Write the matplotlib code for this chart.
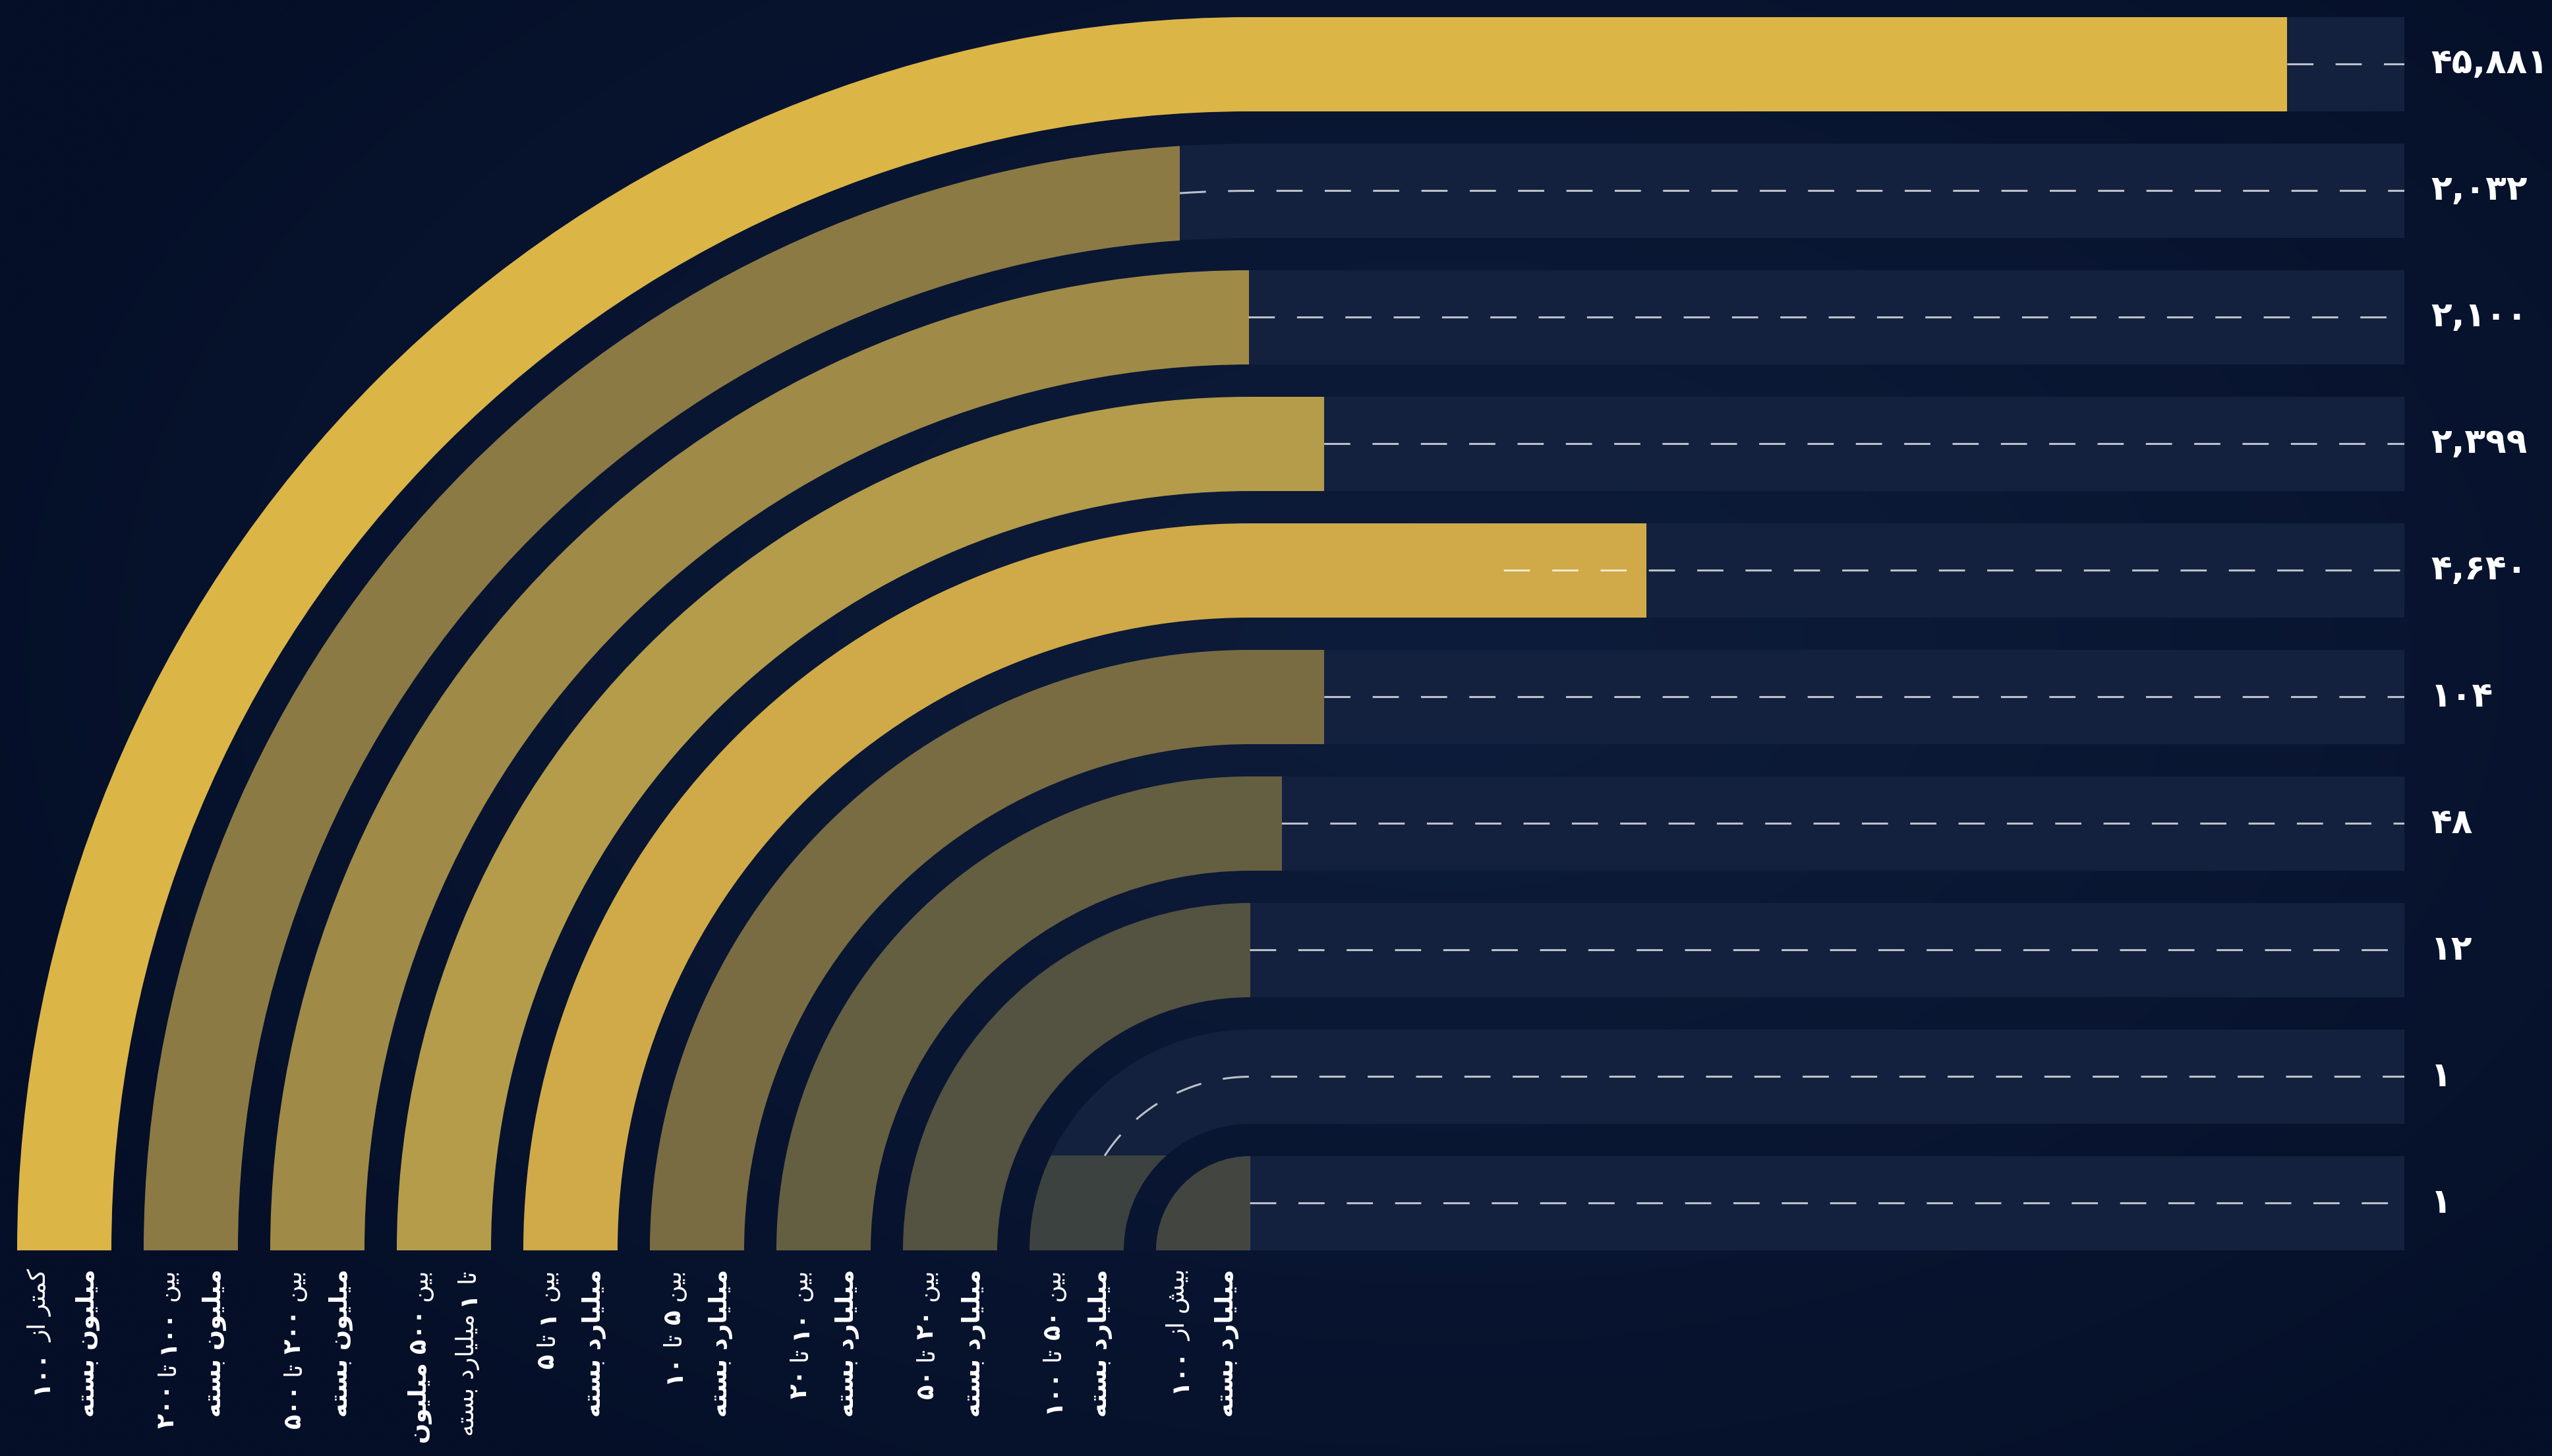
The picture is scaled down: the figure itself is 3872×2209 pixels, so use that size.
import numpy as np
import matplotlib
matplotlib.use("Agg")
import matplotlib.pyplot as plt
from matplotlib.patches import Wedge, Rectangle

# ---------------- data ----------------
values = [45881, 2032, 2100, 2399, 4640, 104, 48, 12, 1, 1]
# drawn fill length along each bar's centre line (pixels of the picture)
fill_length = [4400, 2418, 2221, 2034, 2221, 1431, 1065, 715, 152, 112]
# where the dashed guide begins along the centre line
dash_from = [4400, 2418, 2221, 2034, 2005, 1431, 1065, 715, 152, 112]
# category labels, two lines each; words prefixed with "!" are bold
label_line1 = ["کمتر از !۱۰۰", "بین !۱۰۰ تا !۲۰۰", "بین !۲۰۰ تا !۵۰۰", "بین !۵۰۰ !میلیون",
               "بین !۱ تا !۵", "بین !۵ تا !۱۰", "بین !۱۰ تا !۲۰", "بین !۲۰ تا !۵۰",
               "بین !۵۰ تا !۱۰۰", "بیش از !۱۰۰"]
label_line2 = ["!میلیون !بسته", "!میلیون !بسته", "!میلیون !بسته", "تا !۱ میلیارد بسته",
               "!میلیارد !بسته", "!میلیارد !بسته", "!میلیارد !بسته", "!میلیارد !بسته",
               "!میلیارد !بسته", "!میلیارد !بسته"]

# ---------------- style ----------------
bar_colors = ["#dcb547", "#8c7a45", "#a08a47", "#b49c4a", "#d0aa48",
              "#7a6c42", "#655f42", "#545240", "#3c423f", "#434640"]
TRACK = "#13213e"
BG_EDGE = np.array([5, 15, 40]) / 255
BG_MID = np.array([13, 28, 58]) / 255

# ---------------- minimal Persian shaping ----------------
FORMS = {  # isolated, final, initial, medial
    "ا": ("\uFE8D", "\uFE8E", None, None),
    "ب": ("\uFE8F", "\uFE90", "\uFE91", "\uFE92"),
    "ت": ("\uFE95", "\uFE96", "\uFE97", "\uFE98"),
    "د": ("\uFEA9", "\uFEAA", None, None),
    "ر": ("\uFEAD", "\uFEAE", None, None),
    "ز": ("\uFEAF", "\uFEB0", None, None),
    "س": ("\uFEB1", "\uFEB2", "\uFEB3", "\uFEB4"),
    "ش": ("\uFEB5", "\uFEB6", "\uFEB7", "\uFEB8"),
    "ل": ("\uFEDD", "\uFEDE", "\uFEDF", "\uFEE0"),
    "م": ("\uFEE1", "\uFEE2", "\uFEE3", "\uFEE4"),
    "ن": ("\uFEE5", "\uFEE6", "\uFEE7", "\uFEE8"),
    "ه": ("\uFEE9", "\uFEEA", "\uFEEB", "\uFEEC"),
    "و": ("\uFEED", "\uFEEE", None, None),
    "ک": ("\uFB8E", "\uFB8F", "\uFB90", "\uFB91"),
    "ی": ("\uFBFC", "\uFBFD", "\uFBFE", "\uFBFF"),
}
DUAL = {c for c, f in FORMS.items() if f[2] is not None}


def shape(word):
    out = []
    for i, c in enumerate(word):
        if c not in FORMS:
            out.append(c)
            continue
        prev = word[i - 1] if i > 0 else None
        nxt = word[i + 1] if i + 1 < len(word) else None
        jp = prev in DUAL
        jn = c in DUAL and nxt in FORMS
        iso, fin, ini, med = FORMS[c]
        out.append(med if jp and jn else fin if jp else ini if jn else iso)
    return "".join(out)


def is_digits(tok):
    return all(ch in "۰۱۲۳۴۵۶۷۸۹,0123456789" for ch in tok)


def visual(tokens):
    return " ".join(t if is_digits(t) else shape(t)[::-1] for t in reversed(tokens))


def runs_of(line):
    runs = []
    for tok in line.split():
        bold = tok.startswith("!")
        tok = tok.lstrip("!")
        if runs and runs[-1][0] == bold:
            runs[-1][1].append(tok)
        else:
            runs.append([bold, [tok]])
    return runs


FA = str.maketrans("0123456789", "۰۱۲۳۴۵۶۷۸۹")

# ---------------- layout ----------------
W, H = 3873, 2209
CX, CY = 1897, 1897          # centre of the concentric arcs (picture pixels)
PITCH, BAR_W = 192, 143
TRACK_LEN = 1751
plt.rcParams["font.family"] = ["DejaVu Sans"]

fig = plt.figure(figsize=(W / 100, H / 100), dpi=100)
fig.patch.set_facecolor(BG_EDGE)
ax = fig.add_axes([0, 0, 1, 1])
xlim = (-CX, W - CX)
ylim = (-(H - CY), CY)
ax.set_xlim(*xlim)
ax.set_ylim(*ylim)
ax.axis("off")

# background glow
gy, gx = np.mgrid[ylim[1]:ylim[0]:300j, xlim[0]:xlim[1]:500j]
d = np.sqrt(((gx - 300) / 2300) ** 2 + ((gy - 900) / 1500) ** 2)
d = np.clip(d, 0, 1) ** 1.3
img = BG_MID[None, None, :] * (1 - d[..., None]) + BG_EDGE[None, None, :] * d[..., None]
ax.imshow(img, extent=(xlim[0], xlim[1], ylim[0], ylim[1]), origin="upper",
          aspect="auto", zorder=0, interpolation="bicubic")

n = len(values)
for i in range(n):
    r_in = (n - 1 - i) * PITCH
    r_out = r_in + BAR_W
    rc = r_in + BAR_W / 2
    arc = np.pi / 2 * rc
    # track
    ax.add_patch(Wedge((0, 0), r_out, 90, 180, width=BAR_W, fc=TRACK, ec="none", zorder=1))
    ax.add_patch(Rectangle((-1, r_in), TRACK_LEN + 1, BAR_W, fc=TRACK, ec="none", zorder=1))
    # fill
    s = fill_length[i]
    if s >= arc:
        cut = ("x", s - arc)
    else:
        phi = s / rc
        px, py = -rc * np.cos(phi), rc * np.sin(phi)
        cut = ("x", px) if phi > np.pi / 4 else ("y", py)
    if cut[0] == "x":
        clip = Rectangle((-5000, -5000), cut[1] + 5000, 10000, transform=ax.transData)
    else:
        clip = Rectangle((-5000, -5000), 10000, cut[1] + 5000, transform=ax.transData)
    p1 = Wedge((0, 0), r_out, 90, 180, width=BAR_W, fc=bar_colors[i], ec="none", zorder=2)
    p2 = Rectangle((-1, r_in), TRACK_LEN + 1, BAR_W, fc=bar_colors[i], ec="none", zorder=2)
    for p in (p1, p2):
        ax.add_patch(p)
        p.set_clip_path(clip)
    # dashed guide
    ss = np.linspace(dash_from[i], arc + TRACK_LEN, 1500)
    xs = np.where(ss < arc, -rc * np.cos(ss / rc), ss - arc)
    ys = np.where(ss < arc, rc * np.sin(ss / rc), rc)
    ax.plot(xs, ys, color="white", alpha=0.72, lw=2.2, ls=(0, (13, 11)),
            dash_capstyle="butt", zorder=3)

renderer = fig.canvas.get_renderer()

# value labels: fit size
probe = ax.text(0, 0, "۴۵,۸۸۱", fontsize=40, fontweight="bold")
wv = probe.get_window_extent(renderer).width
probe.remove()
FS_NUM = 40 * 178 / wv
for i in range(n):
    rc = (n - 1 - i) * PITCH + BAR_W / 2
    ax.text(TRACK_LEN + 40, rc, f"{values[i]:,}".translate(FA), ha="left", va="center",
            color="white", fontsize=FS_NUM, fontweight="bold", zorder=5)

# category labels
probe = ax.text(0, 0, visual(["میلیون", "بسته"]), fontsize=30, fontweight="bold")
wl = probe.get_window_extent(renderer).width
probe.remove()
FS_LAB = 30 * 225 / wl
probe = ax.text(0, 0, "a a", fontsize=FS_LAB)
sp = probe.get_window_extent(renderer).width
probe.remove()
probe = ax.text(0, 0, "aa", fontsize=FS_LAB)
sp -= probe.get_window_extent(renderer).width
probe.remove()

TOP = -28
for i in range(n):
    xc = -((n - 1 - i) * PITCH + BAR_W / 2)
    for li, line in enumerate((label_line1[i], label_line2[i])):
        x = xc + (-36 if li == 0 else 36)
        y = TOP
        for bold, toks in runs_of(line):
            t = ax.text(x, y, visual(toks), rotation=90, ha="center", va="top",
                        fontsize=FS_LAB, fontweight="bold" if bold else "normal",
                        color="white", zorder=5)
            bb = t.get_window_extent(renderer)
            y -= bb.height + sp

fig.savefig("out.png", dpi=100, facecolor=fig.get_facecolor())
